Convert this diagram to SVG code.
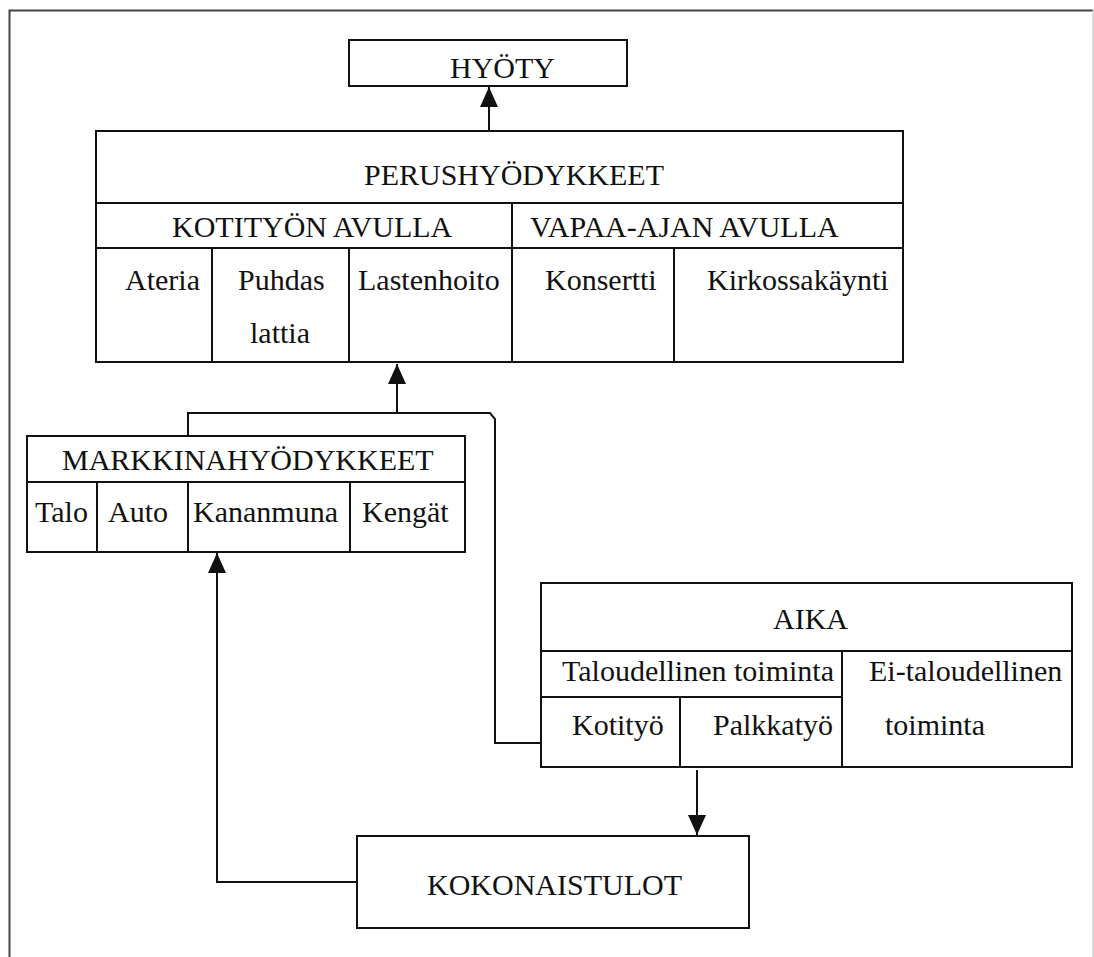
<svg xmlns="http://www.w3.org/2000/svg" width="1094" height="957" viewBox="0 0 1094 957">
<defs>
<style>
.b{fill:#fff;stroke:#111;stroke-width:2}
.l{fill:none;stroke:#111;stroke-width:2}
.c{fill:none;stroke:#111;stroke-width:2}
text{font-family:"Liberation Serif","Times New Roman",serif;font-size:30px;fill:#111}
</style>
<marker id="ah" markerUnits="userSpaceOnUse" markerWidth="20" markerHeight="18" refX="20" refY="9" orient="auto" viewBox="0 0 20 18">
<path d="M0,0 L20,9 L0,18 z" fill="#111"/>
</marker>
</defs>
<rect width="1094" height="957" fill="#fff"/>
<g id="frame">
<path d="M9.5,957 V10.5 H1093" fill="none" stroke="#444" stroke-width="2"/>
<path d="M1093,10.5 V957" fill="none" stroke="#ccc" stroke-width="1.5"/>
</g>
<g id="connectors">
<path class="c" d="M489,131 V87" marker-end="url(#ah)"/>
<path class="c" d="M188,436 V413 H397 V364" marker-end="url(#ah)"/>
<path class="c" d="M541,743 H495 V419 L490,413 H397"/>
<path class="c" d="M697,770 V835" marker-end="url(#ah)"/>
<path class="c" d="M357,882 H217 V553" marker-end="url(#ah)"/>
</g>
<g id="hyoty">
<rect class="b" x="349" y="40" width="278" height="46"/>
<text x="450" y="78">HYÖTY</text>
</g>
<g id="perushyodykkeet">
<rect class="b" x="96" y="131" width="807" height="231"/>
<path class="l" d="M96,203 H903 M96,248 H903 M512,203 V362 M212,248 V362 M349,248 V362 M674,248 V362"/>
<text x="364" y="185">PERUSHYÖDYKKEET</text>
<text x="172" y="237">KOTITYÖN AVULLA</text>
<text x="530" y="237">VAPAA-AJAN AVULLA</text>
<text x="125" y="290">Ateria</text>
<text x="238" y="290">Puhdas</text>
<text x="250" y="343">lattia</text>
<text x="358" y="290">Lastenhoito</text>
<text x="545" y="290">Konsertti</text>
<text x="707" y="290">Kirkossakäynti</text>
</g>
<g id="markkinahyodykkeet">
<rect class="b" x="27" y="436" width="438" height="116"/>
<path class="l" d="M27,482 H465 M97,482 V552 M188,482 V552 M350,482 V552"/>
<text x="62" y="470">MARKKINAHYÖDYKKEET</text>
<text x="35" y="522">Talo</text>
<text x="108" y="522">Auto</text>
<text x="193" y="522">Kananmuna</text>
<text x="362" y="522">Kengät</text>
</g>
<g id="aika">
<rect class="b" x="541" y="583" width="531" height="184"/>
<path class="l" d="M541,651 H1072 M541,697 H842 M842,651 V767 M680,697 V767"/>
<text x="773" y="629">AIKA</text>
<text x="562" y="681">Taloudellinen toiminta</text>
<text x="869" y="681">Ei-taloudellinen</text>
<text x="572" y="735">Kotityö</text>
<text x="713" y="735">Palkkatyö</text>
<text x="885" y="735">toiminta</text>
</g>
<g id="kokonaistulot">
<rect class="b" x="357" y="836" width="392" height="92"/>
<text x="427" y="895">KOKONAISTULOT</text>
</g>
</svg>
